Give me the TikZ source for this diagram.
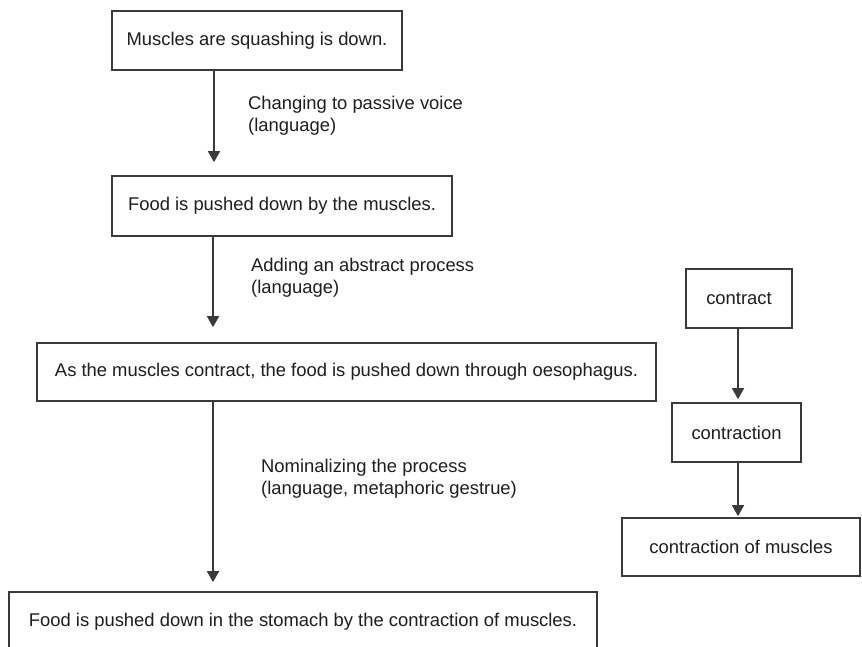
\documentclass[tikz,border=0pt]{standalone}
\usepackage{fontspec}
\setmainfont{Liberation Sans}
\usetikzlibrary{arrows.meta}

\definecolor{edgegray}{HTML}{3A3A3A}
\definecolor{inkgray}{HTML}{1E1E1E}

\tikzset{
  box/.style={draw=edgegray, line width=1.7pt, fill=white, inner sep=0pt,
              font=\fontsize{18.4}{21.5}\selectfont, text=inkgray},
  note/.style={anchor=base west, align=left, inner sep=0pt,
               font=\fontsize{18.4}{21.5}\selectfont, text=inkgray},
  arr/.style={draw=edgegray, line width=1.7pt,
              -{Triangle[width=12pt,length=11pt]}},
}

\begin{document}
\begin{tikzpicture}[x=1pt, y=-1pt]
  \useasboundingbox (0,0) rectangle (862,646);
  \clip (0,0) rectangle (862,646);

  % main chain of sentences
  \node[box, minimum width=290pt, minimum height=59pt] (s1) at (257,40.5)
    {Muscles are squashing is down.};
  \node[box, minimum width=340pt, minimum height=60pt] (s2) at (282,206)
    {Food is pushed down by the muscles.};
  \node[box, minimum width=619pt, minimum height=58pt] (s3) at (346.5,372)
    {As the muscles contract, the food is pushed down through oesophagus.};
  \node[box, minimum width=588pt, minimum height=60pt] (s4) at (303,622)
    {Food is pushed down in the stomach by the contraction of muscles.};

  % word chain on the right
  \node[box, minimum width=106pt, minimum height=59pt] (w1) at (739,298.5)
    {contract};
  \node[box, minimum width=129pt, minimum height=59pt] (w2) at (736.5,432.5)
    {contraction};
  \node[box, minimum width=238pt, minimum height=58pt] (w3) at (741,547)
    {contraction of muscles};

  % vertical guide lines for the arrows
  \coordinate (c1) at (214,0);
  \coordinate (c2) at (213,0);
  \coordinate (c3) at (738,0);

  \draw[arr, shorten >=13pt] (s1.south -| c1) -- (s2.north -| c1);
  \draw[arr, shorten >=15pt] (s2.south -| c2) -- (s3.north -| c2);
  \draw[arr, shorten >=9pt]  (s3.south -| c2) -- (s4.north -| c2);
  \draw[arr, shorten >=3pt]  (w1.south -| c3) -- (w2.north -| c3);
  \draw[arr, shorten >=1pt]  (w2.south -| c3) -- (w3.north -| c3);

  % step labels (anchored at the baseline of their last line)
  \node[note] (n1) at (248,131) {Changing to passive voice\\(language)};
  \node[note] (n2) at (251,293) {Adding an abstract process\\(language)};
  \node[note] (n3) at (261,494) {Nominalizing the process\\(language, metaphoric gestrue)};
\end{tikzpicture}
\end{document}
